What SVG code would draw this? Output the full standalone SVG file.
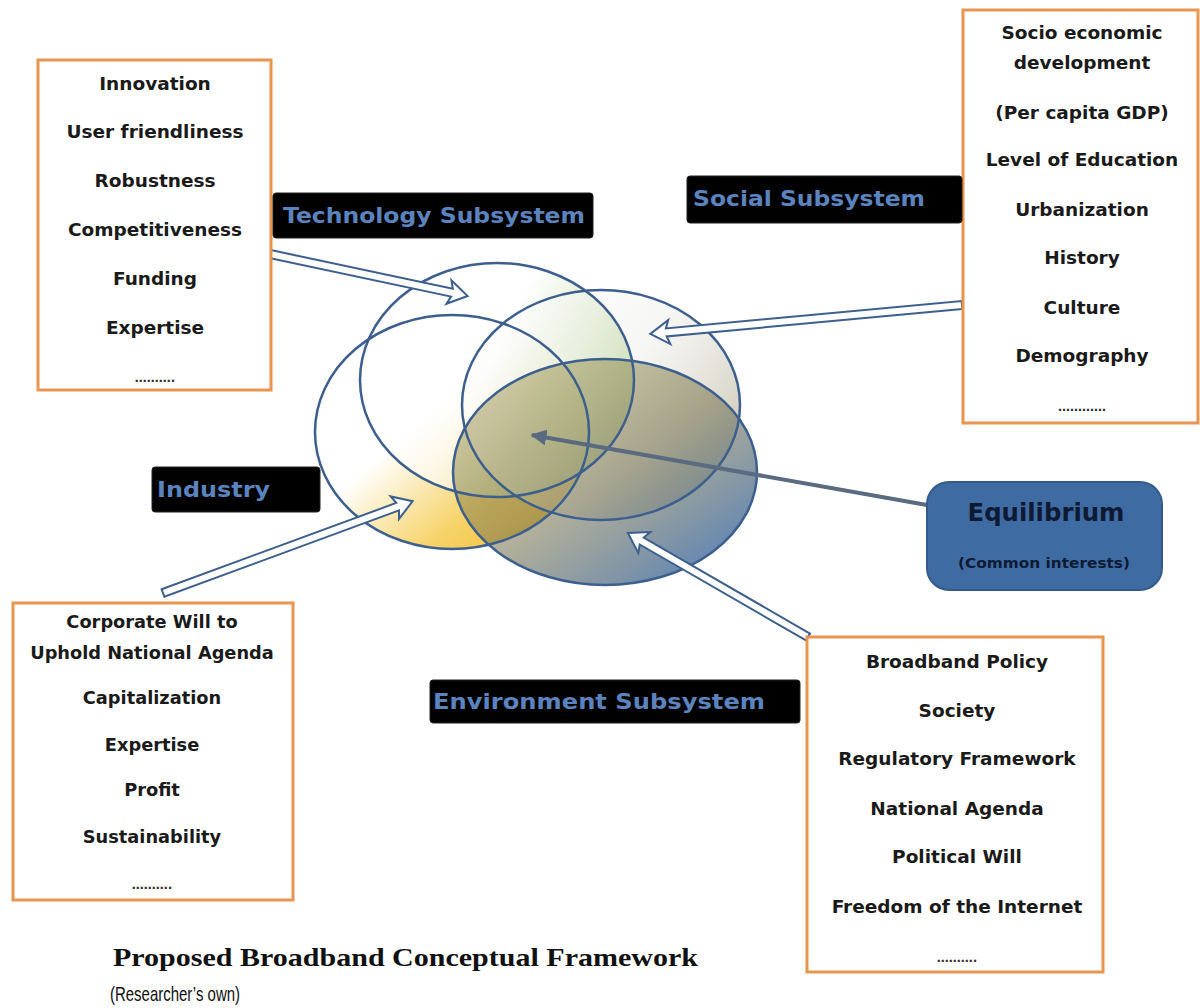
<svg xmlns="http://www.w3.org/2000/svg" width="1200" height="1008" viewBox="0 0 1200 1008">
<defs>
<style>
.box{fill:#fff;stroke:#e8954e;stroke-width:3}
.it{font-family:"DejaVu Sans","Liberation Sans",sans-serif;font-weight:bold;font-size:18.5px;fill:#1a1a1a;text-anchor:middle}
.ind .it{font-size:17.8px}
.dots{font-family:"DejaVu Sans",sans-serif;font-weight:bold;font-size:12px;fill:#333;text-anchor:middle}
.lab{fill:#000;stroke:#222;stroke-width:1}
.labt{font-family:"DejaVu Sans","Liberation Sans",sans-serif;font-weight:bold;font-size:21px;fill:#5b84bf}
.ell{fill:none;stroke:#3d5f8e;stroke-width:2.5}
.barrow{fill:#fff;stroke:#3d5f8e;stroke-width:2;stroke-linejoin:miter}
</style>
<linearGradient id="gA" x1="0" y1="0.3" x2="1" y2="0.7">
<stop offset="0" stop-color="#ffffff" stop-opacity="0.9"/>
<stop offset="0.45" stop-color="#ffffff" stop-opacity="0.6"/>
<stop offset="1" stop-color="#9cc46a" stop-opacity="0.9"/>
</linearGradient>
<linearGradient id="gB" x1="0.1" y1="0.1" x2="0.9" y2="0.9">
<stop offset="0" stop-color="#ffffff"/>
<stop offset="0.4" stop-color="#ffffff"/>
<stop offset="0.75" stop-color="#f6d36a"/>
<stop offset="1" stop-color="#f2bf35"/>
</linearGradient>
<linearGradient id="gC" x1="0" y1="0.2" x2="1" y2="0.8">
<stop offset="0" stop-color="#ffffff" stop-opacity="0.5"/>
<stop offset="0.5" stop-color="#eeeeea" stop-opacity="0.5"/>
<stop offset="1" stop-color="#b9b39a" stop-opacity="0.8"/>
</linearGradient>
<linearGradient id="gD" x1="0.1" y1="0.1" x2="0.9" y2="0.95">
<stop offset="0" stop-color="#948a3c" stop-opacity="0.42"/>
<stop offset="0.5" stop-color="#7e7a58" stop-opacity="0.6"/>
<stop offset="1" stop-color="#3f70b0" stop-opacity="0.88"/>
</linearGradient>
<marker id="ah" viewBox="0 0 10 10" refX="9" refY="5" markerWidth="4" markerHeight="4" orient="auto">
<path d="M0,0 L10,5 L0,10 Z" fill="#5a6a80"/>
</marker>
</defs>
<rect width="1200" height="1008" fill="#fff"/>

<g id="venn">
<ellipse cx="452" cy="432" rx="137" ry="117" fill="url(#gB)"/>
<ellipse cx="497" cy="380" rx="137" ry="117" fill="url(#gA)"/>
<ellipse cx="601" cy="405" rx="139" ry="115" fill="url(#gC)"/>
<ellipse cx="605" cy="472" rx="152" ry="113" fill="url(#gD)"/>
<ellipse class="ell" cx="452" cy="432" rx="137" ry="117"/>
<ellipse class="ell" cx="497" cy="380" rx="137" ry="117"/>
<ellipse class="ell" cx="601" cy="405" rx="139" ry="115"/>
<ellipse class="ell" cx="605" cy="472" rx="152" ry="113"/>
</g>

<g id="connectors">
<path class="barrow" transform="translate(270,254) rotate(12)" d="M0,-4 L186,-4 L183,-12 L202,0 L183,12 L186,4 L0,4 Z"/>
<path class="barrow" transform="translate(962,305) rotate(174.7)" d="M0,-4 L297,-4 L294,-12 L313,0 L294,12 L297,4 L0,4 Z"/>
<path class="barrow" transform="translate(163,593) rotate(-20.2)" d="M0,-4 L250,-4 L247,-12 L266,0 L247,12 L250,4 L0,4 Z"/>
<path class="barrow" transform="translate(808,637) rotate(210)" d="M0,-4 L192,-4 L189,-12 L208,0 L189,12 L192,4 L0,4 Z"/>
<line x1="927" y1="505" x2="532" y2="435" stroke="#5a6a80" stroke-width="4" marker-end="url(#ah)"/>
</g>

<g id="tech-factors">
<rect class="box" x="38" y="60" width="233" height="330"/>
<text class="it" x="155" y="90">Innovation</text>
<text class="it" x="155" y="138">User friendliness</text>
<text class="it" x="155" y="187">Robustness</text>
<text class="it" x="155" y="236">Competitiveness</text>
<text class="it" x="155" y="285">Funding</text>
<text class="it" x="155" y="334">Expertise</text>
<text class="dots" x="155" y="382">……….</text>
</g>

<g id="social-factors">
<rect class="box" x="963" y="10" width="235" height="413"/>
<text class="it" x="1082" y="39">Socio economic</text>
<text class="it" x="1082" y="69">development</text>
<text class="it" x="1082" y="119">(Per capita GDP)</text>
<text class="it" x="1082" y="166">Level of Education</text>
<text class="it" x="1082" y="216">Urbanization</text>
<text class="it" x="1082" y="264">History</text>
<text class="it" x="1082" y="314">Culture</text>
<text class="it" x="1082" y="362">Demography</text>
<text class="dots" x="1082" y="411">…………</text>
</g>

<g id="industry-factors" class="ind">
<rect class="box" x="13" y="603" width="280" height="297"/>
<text class="it" x="152" y="628">Corporate Will to</text>
<text class="it" x="152" y="659">Uphold National Agenda</text>
<text class="it" x="152" y="704">Capitalization</text>
<text class="it" x="152" y="751">Expertise</text>
<text class="it" x="152" y="796">Profit</text>
<text class="it" x="152" y="843">Sustainability</text>
<text class="dots" x="152" y="889">……….</text>
</g>

<g id="environment-factors">
<rect class="box" x="807" y="637" width="296" height="335"/>
<text class="it" x="957" y="668">Broadband Policy</text>
<text class="it" x="957" y="717">Society</text>
<text class="it" x="957" y="765">Regulatory Framework</text>
<text class="it" x="957" y="815">National Agenda</text>
<text class="it" x="957" y="863">Political Will</text>
<text class="it" x="957" y="913">Freedom of the Internet</text>
<text class="dots" x="957" y="962">……….</text>
</g>

<g id="tech-label">
<rect class="lab" x="273" y="193" width="320" height="45" rx="3"/>
<text class="labt" x="283" y="223" textLength="302" lengthAdjust="spacingAndGlyphs">Technology Subsystem</text>
</g>
<g id="social-label">
<rect class="lab" x="687" y="176" width="275" height="47" rx="3"/>
<text class="labt" x="693" y="206" textLength="232" lengthAdjust="spacingAndGlyphs">Social Subsystem</text>
</g>
<g id="industry-label">
<rect class="lab" x="152" y="467" width="168" height="45" rx="3"/>
<text class="labt" x="157" y="497" textLength="113" lengthAdjust="spacingAndGlyphs">Industry</text>
</g>
<g id="environment-label">
<rect class="lab" x="430" y="680" width="370" height="43" rx="3"/>
<text class="labt" x="433" y="709" textLength="332" lengthAdjust="spacingAndGlyphs">Environment Subsystem</text>
</g>

<g id="equilibrium">
<rect x="927" y="482" width="235" height="108" rx="22" fill="#3f6ba3" stroke="#345a8a" stroke-width="2"/>
<text x="1046" y="521" text-anchor="middle" font-family="DejaVu Sans, sans-serif" font-weight="bold" font-size="24" fill="#0e1a33" textLength="157" lengthAdjust="spacingAndGlyphs">Equilibrium</text>
<text x="1044" y="568" text-anchor="middle" font-family="DejaVu Sans, sans-serif" font-weight="bold" font-size="14" fill="#0e1a33" textLength="172" lengthAdjust="spacingAndGlyphs">(Common interests)</text>
</g>

<g id="caption">
<text x="113" y="966" font-family="Liberation Serif, serif" font-weight="bold" font-size="25" fill="#111" textLength="585" lengthAdjust="spacingAndGlyphs">Proposed Broadband Conceptual Framework</text>
<text x="110" y="1001" font-family="Liberation Sans, sans-serif" font-size="21" fill="#111" textLength="130" lengthAdjust="spacingAndGlyphs">(Researcher’s own)</text>
</g>
</svg>
